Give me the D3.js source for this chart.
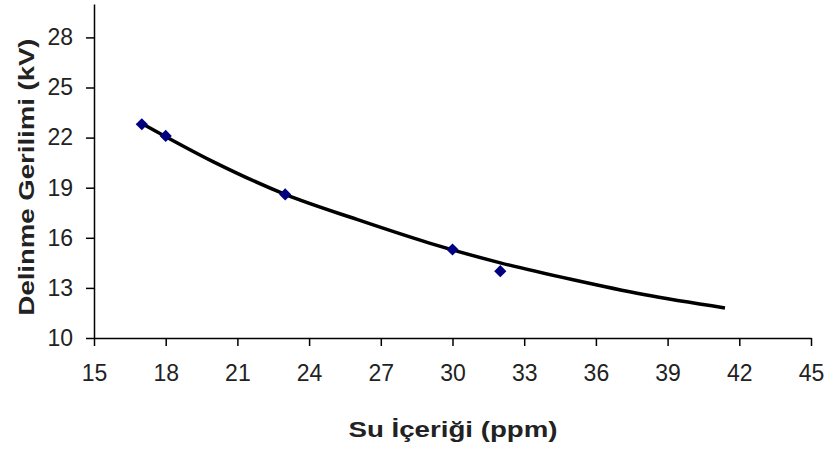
<!DOCTYPE html>
<html lang="tr">
  <head>
    <meta charset="UTF-8" />
    <title>Delinme Gerilimi</title>
    <style>
      body { margin: 0; background: #fff; }
      text { font-family: Arial, 'Liberation Sans', sans-serif; }
    </style>
    <script src="https://d3js.org/d3.v7.min.js"></script>
  </head>
  <body>
    <div class="chart"></div>
    <script>
      // ölçüm noktaları
      const suIcerigi = [17, 18, 23, 30, 32]
      const gerilim = [22.8, 22.1, 18.6, 15.3, 14.0]
      // eğilim çizgisi
      const trendX = [17, 20, 23, 26, 29, 32, 35, 38, 41.4]
      const trendY = [22.85, 20.55, 18.6, 17.1, 15.7, 14.5, 13.5, 12.6, 11.8]
      const xTicks = [15, 18, 21, 24, 27, 30, 33, 36, 39, 42, 45]
      const yTicks = [10, 13, 16, 19, 22, 25, 28]

      const width = 828
      const height = 452
      const svg = d3.select('.chart').append('svg').attr('width', width).attr('height', height)

      const x = d3.scaleLinear().domain([15, 45]).range([94, 811])
      const y = d3.scaleLinear().domain([10, 30]).range([338, 4])

      // y ekseni
      const yAxis = svg
        .append('g')
        .attr('transform', 'translate(94,0)')
        .call(d3.axisLeft(y).tickValues(yTicks).tickSize(8).tickPadding(13).tickSizeOuter(0))
      yAxis.select('.domain').attr('stroke', '#000').attr('stroke-width', 1.5)
      yAxis.selectAll('.tick line').attr('stroke-width', 1.5)
      yAxis.selectAll('text').style('font-size', '23px').attr('fill', '#222')

      // x ekseni
      const xAxis = svg
        .append('g')
        .attr('transform', 'translate(0,338)')
        .call(d3.axisBottom(x).tickValues(xTicks).tickSize(8).tickPadding(19).tickSizeOuter(0))
      xAxis.select('.domain').attr('stroke', '#000').attr('stroke-width', 1.5)
      xAxis.selectAll('.tick line').attr('stroke-width', 1.5)
      xAxis.selectAll('text').style('font-size', '23px').attr('fill', '#222')

      // eğilim çizgisi
      const line = d3
        .line()
        .x((d, i) => x(trendX[i]))
        .y((d) => y(d))
        .curve(d3.curveMonotoneX)
      svg
        .append('path')
        .attr('d', line(trendY))
        .attr('fill', 'none')
        .attr('stroke', '#000')
        .attr('stroke-width', 3.5)

      // noktalar
      svg
        .append('g')
        .selectAll('path')
        .data(gerilim)
        .join('path')
        .attr('d', d3.symbol(d3.symbolDiamond2, 95))
        .attr('transform', (d, i) => `translate(${x(suIcerigi[i])},${y(d)})`)
        .attr('fill', '#000080')

      // eksen başlıkları
      svg
        .append('text')
        .attr('transform', 'translate(34,177) rotate(-90)')
        .attr('text-anchor', 'middle')
        .attr('textLength', 277)
        .attr('lengthAdjust', 'spacingAndGlyphs')
        .style('font-size', '22px')
        .style('font-weight', 'bold')
        .attr('fill', '#222')
        .text('Delinme  Gerilimi (kV)')

      svg
        .append('text')
        .attr('x', 453)
        .attr('y', 437)
        .attr('text-anchor', 'middle')
        .attr('textLength', 209)
        .attr('lengthAdjust', 'spacingAndGlyphs')
        .style('font-size', '22px')
        .style('font-weight', 'bold')
        .attr('fill', '#222')
        .text('Su İçeriği (ppm)')
    </script>
  </body>
</html>
